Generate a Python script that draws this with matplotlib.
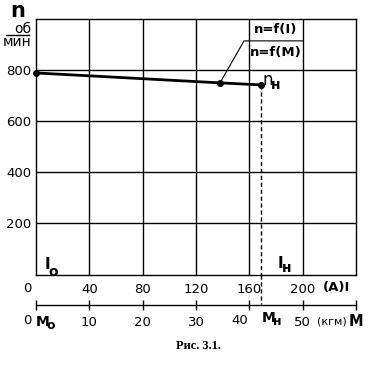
import matplotlib.pyplot as plt
from matplotlib.lines import Line2D
from matplotlib.transforms import blended_transform_factory

# данные
I_pts = [0, 138, 169]          # ток, А
n_pts = [788, 749, 741]        # частота вращения, об/мин
I_grid = [40, 80, 120, 160, 200]
n_grid = [200, 400, 600, 800]
M_ticks = [0, 10, 20, 30, 40, 50, 60]
M_labels = ['', '10', '20', '30', '', '50', '']
I_nom, n_nom = I_pts[-1], n_pts[-1]
leader_I, leader_n = 156, 914   # излом выноски к подписи

plt.rcParams['font.family'] = ['DejaVu Sans']
plt.rcParams['font.size'] = 9.5

fig = plt.figure(figsize=(3.81, 3.77), dpi=100)
ax = fig.add_axes([36 / 381, 102 / 377, 320 / 381, 256 / 377])
ax.set_xlim(0, 240)
ax.set_ylim(-6, 1000)
for x in I_grid:
    ax.axvline(x, color='k', lw=1)
for y in n_grid:
    ax.axhline(y, color='k', lw=1)
for s in ax.spines.values():
    s.set_linewidth(1)

ax.set_xticks(I_grid)
ax.set_yticks(n_grid)
ax.tick_params(axis='both', length=0, colors='k')
ax.tick_params(axis='x', pad=6)
ax.tick_params(axis='y', pad=3.5)

# характеристика n = f(I)
ax.plot(I_pts, n_pts, color='k', lw=2, marker='o', ms=4, clip_on=False, zorder=5)
# номинальная точка
ax.plot([I_nom, I_nom], [n_nom, -6], color='k', lw=1, ls=(0, (3, 2)))
ax.plot([I_nom, I_nom], [-6, -120], color='k', lw=1, ls=(0, (3, 2)), clip_on=False)

# выноска к подписи
ax.plot([I_pts[1], leader_I, 200], [n_pts[1], leader_n, leader_n], color='k', lw=0.8)
ax.text(180, 957, 'n=f(I)', ha='center', va='center', fontweight='bold')
ax.text(180, 870, 'n=f(M)', ha='center', va='center', fontweight='bold')

# подписи с индексами
ax.annotate('n', (I_nom, n_nom), xytext=(1, 0), textcoords='offset pixels',
            fontsize=12, va='baseline')
ax.annotate('н', (I_nom, n_nom), xytext=(10, -4), textcoords='offset pixels',
            fontsize=10, fontweight='bold', va='baseline')

tb = blended_transform_factory(ax.transData, ax.transAxes)
ax.text(6.5, 6 / 256, 'I', transform=tb, fontsize=11, fontweight='bold', va='baseline')
ax.text(9.5, -1 / 256, 'o', transform=tb, fontsize=10, fontweight='bold', va='baseline')
ax.text(181.5, 7 / 256, 'I', transform=tb, fontsize=11, fontweight='bold', va='baseline')
ax.text(184.5, 3 / 256, 'н', transform=tb, fontsize=10, fontweight='bold', va='baseline')

# шкала тока
ax.text(-6.5, -13 / 256, '0', transform=tb, ha='center', va='center')
ax.text(235.5, -13 / 256, '(A)I', transform=tb, ha='right', va='center', fontweight='bold')

# шкала момента
axm = ax.secondary_xaxis(-30 / 256, functions=(lambda x: x / 4, lambda m: m * 4))
axm.set_xticks(M_ticks, M_labels)
axm.tick_params(direction='inout', length=7.5, width=1, pad=4)
axm.spines['bottom'].set_linewidth(1)

ax.text(-6.5, -46 / 256, '0', transform=tb, ha='center', va='center')
ax.text(-0.5, -51 / 256, 'M', transform=tb, fontsize=10, fontweight='bold', va='baseline')
ax.text(8, -54 / 256, 'o', transform=tb, fontsize=9, fontweight='bold', va='baseline')
ax.text(159, -46 / 256, '40', transform=tb, ha='right', va='center')
ax.text(I_nom, -47 / 256, 'M', transform=tb, fontsize=10, fontweight='bold', va='baseline')
ax.text(I_nom + 8.5, -50 / 256, 'н', transform=tb, fontsize=9, fontweight='bold', va='baseline')
ax.text(211, -46 / 256, '(кгм)', transform=tb, ha='left', va='center', fontsize=8)
ax.text(234.5, -46 / 256, 'M', transform=tb, ha='left', va='center', fontsize=10.5, fontweight='bold')

# обозначение оси n
fig.text(18 / 381, 1 - 17 / 377, 'n', ha='center', va='baseline', fontsize=15, fontweight='bold')
fig.text(23 / 381, 1 - 33 / 377, 'об', ha='center', va='baseline', fontsize=10)
fig.add_artist(Line2D([6 / 381, 29 / 381], [1 - 35 / 377, 1 - 35 / 377], color='k', lw=1))
fig.text(17.5 / 381, 1 - 46 / 377, 'мин', ha='center', va='baseline', fontsize=10)

fig.text(198 / 381, 1 - 346 / 377, 'Рис. 3.1.', ha='center', va='center',
         fontsize=9, fontweight='bold', family='Liberation Serif')

fig.savefig('out.png', dpi=100)
